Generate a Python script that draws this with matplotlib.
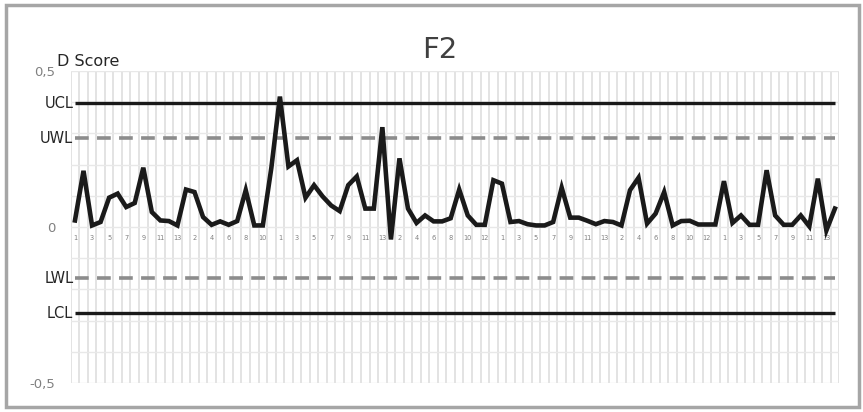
import matplotlib
matplotlib.use("Agg")
import matplotlib.pyplot as plt
import numpy as np
from matplotlib.patches import Rectangle

# ---- data ----
group_sizes = [13, 11, 13, 13, 13, 13, 14]
d_score = [
    0.021, 0.180, 0.005, 0.016, 0.094, 0.107, 0.064, 0.077, 0.190, 0.048,
    0.021, 0.019, 0.005, 0.120, 0.112, 0.032, 0.007, 0.018, 0.007, 0.019,
    0.118, 0.005, 0.005, 0.190, 0.418, 0.194, 0.214, 0.094, 0.134, 0.098,
    0.069, 0.051, 0.134, 0.162, 0.059, 0.059, 0.320, -0.040, 0.220, 0.059,
    0.013, 0.037, 0.018, 0.018, 0.028, 0.120, 0.037, 0.007, 0.007, 0.150,
    0.139, 0.016, 0.019, 0.009, 0.005, 0.005, 0.016, 0.126, 0.030, 0.030,
    0.020, 0.009, 0.019, 0.016, 0.005, 0.118, 0.158, 0.011, 0.043, 0.112,
    0.005, 0.019, 0.020, 0.008, 0.008, 0.008, 0.147, 0.013, 0.037, 0.007,
    0.007, 0.182, 0.037, 0.007, 0.007, 0.037, 0.002, 0.155, -0.011, 0.059,
]
limit_names = ["UCL", "UWL", "LWL", "LCL"]
limit_values = [0.396, 0.284, -0.164, -0.276]
y_tick_values = [-0.5, 0.0, 0.5]
y_tick_labels = ["-0,5", "0", "0,5"]
title = "F2"
y_title = "D Score"

# ---- style ----
plt.rcParams['font.family'] = ['DejaVu Sans']
W, H = 863, 412
fig = plt.figure(figsize=(W / 100, H / 100), dpi=100)
ax = fig.add_axes([70.7 / W, 29 / H, 768.5 / W, 312 / H])

# axis line through zero (set before ticks: it resets them)
ax.spines['bottom'].set_position(('data', 0))
for s in ax.spines.values():
    s.set_visible(False)

x = np.arange(len(d_score))
cat_labels = [str(k) for n in group_sizes for k in range(1, n + 1)]

# gridlines
ax.set_xticks(np.arange(-0.5, len(d_score), 1.0), minor=True)
ax.set_yticks(np.arange(-0.5, 0.51, 0.1), minor=True)
ax.grid(True, which='minor', axis='x', color='#dedede', lw=1.2)
ax.grid(True, which='both', axis='y', color='#e8e8e8', lw=1.0)
ax.set_axisbelow(True)

# limit lines
limit_styles = {
    "UCL": dict(color='#1a1a1a', lw=2.4, ls='-'),
    "UWL": dict(color='#8c8c8c', lw=2.6, ls=(0, (3.8, 2.3))),
    "LWL": dict(color='#8c8c8c', lw=2.6, ls=(0, (3.8, 2.3))),
    "LCL": dict(color='#1a1a1a', lw=2.4, ls='-'),
}
for name, val in zip(limit_names, limit_values):
    ax.plot(x, np.full(len(x), val), solid_capstyle='butt', dash_capstyle='butt',
            zorder=3, **limit_styles[name])
    ax.text(-0.2, val, name, ha='right', va='center', fontsize=10.5,
            color='#262626', zorder=6)

# data line
ax.plot(x, d_score, color='#1a1a1a', lw=3.3, solid_joinstyle='miter', zorder=5)

ax.set_xlim(-0.5, len(d_score) - 0.5)
ax.set_ylim(-0.5, 0.5)

ax.set_xticks(x[::2])
ax.set_xticklabels(cat_labels[::2])
ax.set_yticks(y_tick_values)
ax.set_yticklabels(y_tick_labels)
ax.tick_params(axis='x', which='both', length=0, pad=5.5, labelsize=4.8,
               labelcolor='#808080')
ax.tick_params(axis='y', which='both', length=0, pad=11, labelsize=9.5,
               labelcolor='#808080')

fig.text(440 / W, 1 - 50 / H, title, ha='center', va='center', fontsize=21,
         color='#404040')
fig.text(57 / W, 1 - 62 / H, y_title, ha='left', va='center', fontsize=11.5,
         color='#262626')

fig.patches.append(Rectangle((5.5 / W, 5 / H), 853 / W, 402 / H,
                             transform=fig.transFigure, fill=False,
                             edgecolor='#a6a6a6', lw=2.5))

fig.savefig("out.png", dpi=100, facecolor='white')
